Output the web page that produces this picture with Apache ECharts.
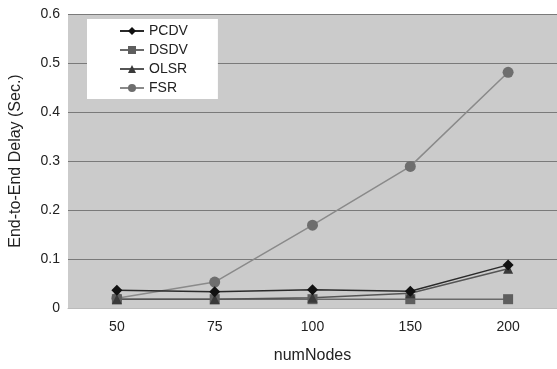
<!DOCTYPE html>
<html>
<head>
<meta charset="utf-8">
<script src="https://cdn.jsdelivr.net/npm/echarts@6/dist/echarts.min.js"></script>
<style>
  html, body { margin: 0; padding: 0; background: #fff; }
  #chart { width: 557px; height: 369px; }
</style>
</head>
<body>
<div id="chart"></div>
<script>
// Average end-to-end delay per routing protocol vs. network size
const categories = ['50', '75', '100', '150', '200'];
const pcdv = [0.036, 0.033, 0.037, 0.034, 0.088];
const dsdv = [0.018, 0.018, 0.018, 0.018, 0.018];
const olsr = [0.018, 0.018, 0.021, 0.030, 0.080];
const fsr  = [0.020, 0.053, 0.169, 0.289, 0.481];
const yTicks = [0, 0.1, 0.2, 0.3, 0.4, 0.5, 0.6];

const font = 'Liberation Sans, Arial, sans-serif';

function line(name, data, symbol, size, markerColor, lineColor, lineWidth) {
  return {
    name, type: 'line', data, symbol, symbolSize: size,
    itemStyle: { color: markerColor },
    lineStyle: { color: lineColor, width: lineWidth },
    emphasis: { disabled: true }
  };
}

const chart = echarts.init(document.getElementById('chart'), null, { renderer: 'canvas' });
chart.setOption({
  animation: false,
  backgroundColor: '#ffffff',
  grid: { left: 64, right: 0, top: 14, bottom: 53, backgroundColor: '#cbcbcb', show: true, borderWidth: 0 },
  legend: {
    left: 87, top: 19, orient: 'vertical', itemGap: 5,
    padding: [5, 30, 4, 32],
    backgroundColor: '#ffffff',
    itemWidth: 24, itemHeight: 10,
    textStyle: { fontFamily: font, fontSize: 14, color: '#222' },
    data: ['PCDV', 'DSDV', 'OLSR', 'FSR']
  },
  xAxis: {
    type: 'category', data: categories, boundaryGap: true,
    name: 'numNodes', nameLocation: 'middle', nameGap: 40,
    nameTextStyle: { fontFamily: font, fontSize: 16, color: '#222' },
    axisLine: { show: true, lineStyle: { color: '#bbb' } },
    axisTick: { show: false },
    axisLabel: { fontFamily: font, fontSize: 14, color: '#222', margin: 12 }
  },
  yAxis: {
    type: 'value', min: 0, max: 0.6, interval: 0.1,
    name: 'End-to-End Delay (Sec.)', nameLocation: 'middle', nameGap: 44,
    nameTextStyle: { fontFamily: font, fontSize: 16, color: '#222' },
    axisLine: { show: false }, axisTick: { show: false },
    axisLabel: {
      fontFamily: font, fontSize: 14, color: '#222', margin: 8,
      formatter: v => {
        const t = yTicks.find(x => Math.abs(x - v) < 1e-9);
        return t === undefined ? '' : (t === 0 ? '0' : t.toFixed(1));
      }
    },
    splitLine: { show: true, lineStyle: { color: '#7a7a7a', width: 1 } }
  },
  series: [
    line('FSR', fsr, 'circle', 11, '#6e6e6e', '#8a8a8a', 1.5),
    line('DSDV', dsdv, 'rect', 10, '#5e5e5e', '#6a6a6a', 1.5),
    line('OLSR', olsr, 'triangle', 10, '#3a3a3a', '#555555', 1.5),
    line('PCDV', pcdv, 'diamond', 11, '#111111', '#2a2a2a', 1.5)
  ]
});
</script>
</body>
</html>
